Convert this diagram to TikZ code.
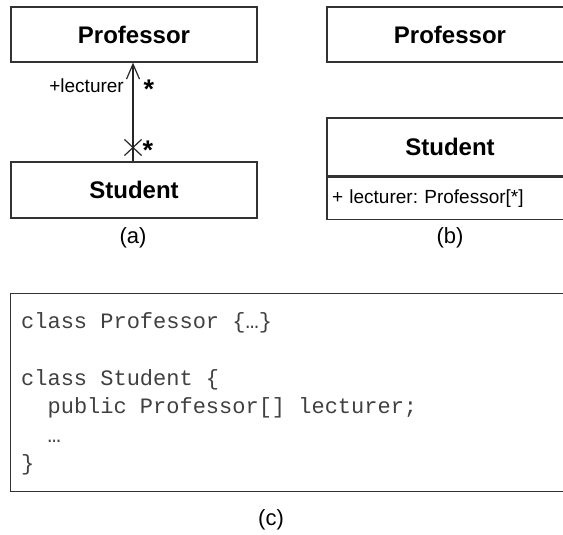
\documentclass[tikz,border=0pt]{standalone}
\usepackage{fontspec}
\setmainfont{Liberation Sans}
\setmonofont{Liberation Mono}
\frenchspacing
\usetikzlibrary{arrows.meta, shapes.misc}

\begin{document}
\begin{tikzpicture}[x=1pt,y=-1pt,
  classbox/.style={draw=black!80, line width=1.2pt, inner sep=0pt,
    minimum width=246pt, minimum height=55pt,
    font=\fontsize{24}{28}\selectfont\bfseries},
  attrbox/.style={draw=black!80, line width=1.2pt, inner xsep=5pt, inner ysep=0pt,
    minimum width=246pt, minimum height=42pt, text width=236pt, align=left,
    font=\fontsize{19}{22}\selectfont},
  rolelabel/.style={inner sep=0pt, font=\fontsize{19}{22}\selectfont},
  multlabel/.style={inner sep=0pt, font=\fontsize{27}{28}\selectfont\bfseries},
  caption/.style={inner sep=0pt, font=\fontsize{22}{24}\selectfont},
  codeline/.style={inner sep=0pt, anchor=base west, text=black!75,
    font=\fontsize{22}{28}\ttfamily}]
\useasboundingbox (0,0) rectangle (563,535);
\clip (0,0) rectangle (563,535);

% (a) association
\node[classbox] (profA) at (134,34.5) {Professor};
\node[classbox, minimum height=56pt] (studA) at (134,190) {Student};
\draw[black!85, line width=1.2pt, -{Straight Barb[length=15pt, width=13pt]}] (studA.north -| 133,0) -- (profA.south -| 133,0);
\node[draw=black!85, line width=1.2pt, cross out, inner sep=0pt, minimum width=16pt, minimum height=15pt] (navX) at (133,147.5) {};
\node[rolelabel, anchor=east] (roleA) at (124,86) {+lecturer};
\node[multlabel] (multP) at (149,89) {*};
\node[multlabel] (multS) at (148,150) {*};
\node[caption] (capA) at (133,238) {(a)};

% (b) attribute
\node[classbox] (profB) at (450,34.5) {Professor};
\node[classbox, minimum height=58pt] (studB) at (450,147) {Student};
\node[attrbox, anchor=north] (attrB) at (studB.south) {+ lecturer: Professor[*]};
\node[caption] (capB) at (450,238) {(b)};

% (c) code
\node[draw=black!80, line width=1.2pt, anchor=north west, inner sep=0pt, minimum width=570pt, minimum height=198pt] (codeBox) at (10,293) {};
\node[codeline] (codeA) at (21,328) {class Professor \{…\}};
\node[codeline] (codeB) at (21,385) {class Student \{};
\node[codeline] (codeC) at (47.4,413.5) {public Professor[] lecturer;};
\node[codeline] (codeD) at (47.4,442) {…};
\node[codeline] (codeE) at (21,470.5) {\}};
\node[caption] (capC) at (271,520) {(c)};
\end{tikzpicture}
\end{document}
